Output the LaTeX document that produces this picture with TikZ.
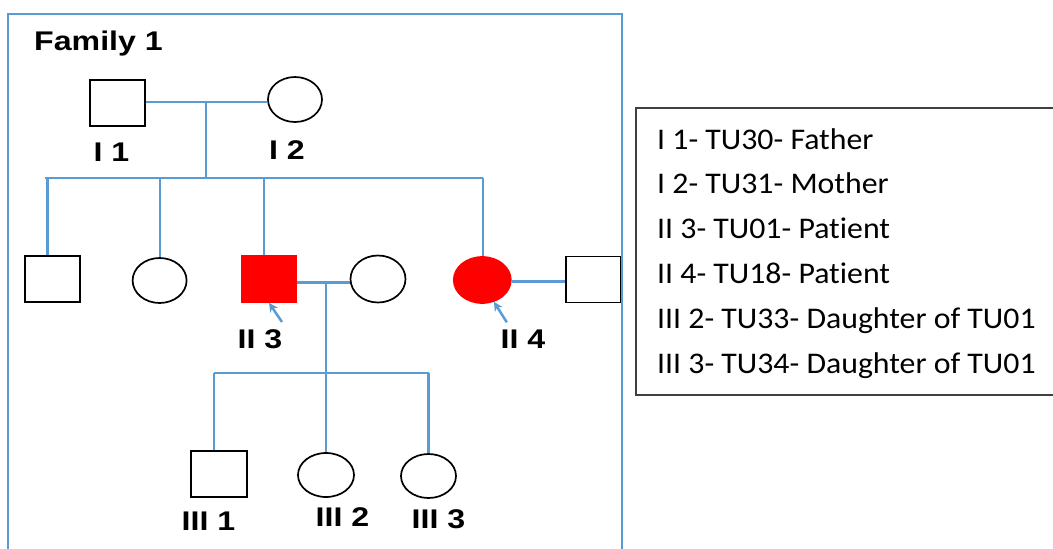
\documentclass[tikz,border=0pt]{standalone}
\usepackage{fontspec}
\usetikzlibrary{shapes.geometric,arrows.meta}
\newfontfamily\pedfont[FakeStretch=1.19]{Liberation Sans}
\newfontfamily\legfont[FakeStretch=1.06,Ligatures=NoCommon,Contextuals=NoAlternate]{Carlito}
\definecolor{pblue}{HTML}{5B9BD5}
\definecolor{pred}{HTML}{FF0000}
\begin{document}
\begin{tikzpicture}[x=1pt,y=-1pt,
  male/.style={draw=black, line width=1.7pt, rectangle, minimum width=55pt, minimum height=46pt, inner sep=0pt},
  female/.style={draw=black, line width=1.7pt, ellipse, minimum width=55pt, minimum height=46pt, inner sep=0pt},
  affected/.style={fill=pred, draw=pred},
  link/.style={draw=pblue, line width=2.6pt},
  pointer/.style={draw=pblue, line width=2.5pt, -{Stealth[length=9pt,width=9pt]}},
  lab/.style={font=\pedfont\bfseries\fontsize{27}{32}\selectfont, anchor=base, inner sep=0pt},
  leg/.style={font=\legfont\fontsize{30}{36}\selectfont, anchor=base west, inner sep=0pt},
  ]
\useasboundingbox (0,0) rectangle (1053,549);
\fill[white] (0,0) rectangle (1053,549);
\draw[pblue, line width=2.2pt] (8,14) rectangle (622,580);

\node[lab, anchor=base west] (fam) at (34,50.7) {Family 1};

% generation I
\node[male] (I1) at (117.5,103.3) {};
\node[female, minimum width=54pt, minimum height=45pt] (I2) at (295,99.5) {};
\node[lab] (lI1) at (111.5,161.7) {I 1};
\node[lab] (lI2) at (287,159.3) {I 2};

\coordinate (c1) at (206,102);
\coordinate (s1) at (206,178);
\draw[link] (I1.east |- c1) -- (I2.west |- c1);
\draw[link] (c1) -- (s1);

% generation II
\node[male] (II1) at (52.5,279) {};
\node[female, minimum width=54pt, minimum height=45pt] (II2) at (159.6,280.5) {};
\node[male, affected] (II3) at (269,279) {};
\node[female, minimum height=47pt] (W3) at (378,279) {};
\node[female, affected, minimum width=57pt] (II4) at (482.3,280) {};
\node[male, minimum width=54.5pt] (H4) at (593.3,279.4) {};

\coordinate (s1L) at (45,178);
\coordinate (s1R) at (483,178);
\coordinate (d11) at (47.4,178);
\coordinate (d12) at (160,178);
\coordinate (d13) at (264,178);
\draw[link] (s1L) -- (s1R);
\draw[link] (d11) -- (d11 |- II1.north);
\draw[link] (d12) -- (d12 |- II2.north);
\draw[link] (d13) -- (d13 |- II3.north);
\draw[link] (s1R) -- (s1R |- II4.north);

\coordinate (c2) at (326,282.7);
\coordinate (c3) at (538,281.7);
\draw[link] (II3.east |- c2) -- (W3.west |- c2);
\draw[link] (II4.east |- c3) -- (H4.west |- c3);

\coordinate (a3) at (282,322);
\coordinate (a4) at (506.8,322.3);
\draw[pointer] (a3) -- (II3.south);
\draw[pointer] (a4) -- (II4.-62);

\node[lab] (lII3) at (260,348.3) {II 3};
\node[lab] (lII4) at (523,348.3) {II 4};

% generation III
\node[male, minimum width=56pt] (III1) at (219,474) {};
\node[female, minimum width=56pt, minimum height=44pt] (III2) at (326,475) {};
\node[female, minimum height=44pt] (III3) at (428.5,476) {};

\coordinate (s2) at (326,373);
\coordinate (s2L) at (214,373);
\coordinate (s2R) at (428.5,373);
\draw[link] (c2) -- (s2);
\draw[link] (s2L) -- (s2R);
\draw[link] (s2L) -- (s2L |- III1.north);
\draw[link] (s2) -- (III2.north);
\draw[link] (s2R) -- (III3.north);

\node[lab] (lIII1) at (208.5,530.7) {III 1};
\node[lab] (lIII2) at (342.5,526.7) {III 2};
\node[lab] (lIII3) at (438.5,528.3) {III 3};

% legend
\draw[black!75, line width=1.3pt] (636,108) rectangle (1070,395);
\node[leg] (L1) at (657,149.3) {I 1- TU30- Father};
\node[leg] (L2) at (657,193.8) {I 2- TU31- Mother};
\node[leg] (L3) at (657,238.3) {II 3- TU01- Patient};
\node[leg] (L4) at (657,283.3) {II 4- TU18- Patient};
\node[leg] (L5) at (657,328.3) {III 2- TU33- Daughter of TU01};
\node[leg] (L6) at (657,373.3) {III 3- TU34- Daughter of TU01};
\end{tikzpicture}
\end{document}
